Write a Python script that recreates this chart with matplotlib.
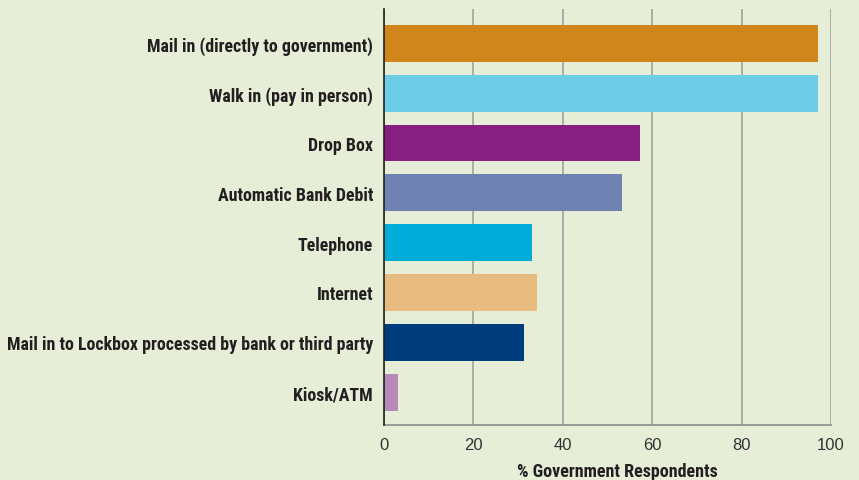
import matplotlib
matplotlib.use("Agg")
import matplotlib.pyplot as plt
from matplotlib import font_manager

categories = [
    "Mail in (directly to government)",
    "Walk in (pay in person)",
    "Drop Box",
    "Automatic Bank Debit",
    "Telephone",
    "Internet",
    "Mail in to Lockbox processed by bank or third party",
    "Kiosk/ATM",
]
values = [97.2, 97.2, 57.2, 53.2, 33.1, 34.2, 31.3, 3.1]
colors = ["#D0861A", "#6DCCE6", "#871F80", "#6F82B2",
          "#00ACD8", "#E8BB80", "#003D7C", "#B88AB9"]
xticks = [0, 20, 40, 60, 80, 100]
xlabel = "% Government Respondents"

bg = "#E6EED8"
names = {f.name for f in font_manager.fontManager.ttflist}
narrow = "Liberation Sans"
for cand in ["Roboto Condensed", "PT Sans Narrow", "Archivo Narrow", "Liberation Sans Narrow"]:
    if cand in names:
        narrow = cand
        break

fig = plt.figure(figsize=(8.59, 4.81), dpi=100, facecolor=bg)
ax = fig.add_axes([384 / 859, 1 - 426 / 481, (831 - 384) / 859, (426 - 10) / 481])
ax.set_facecolor(bg)

n = len(categories)
ypos = [n - 1 - i for i in range(n)]
ax.barh(ypos, values, height=0.74, color=colors, zorder=3)

ax.set_xlim(0, 100)
ax.set_ylim(-0.66, n - 1 + 0.69)
ax.set_xticks(xticks)
ax.set_xticklabels([str(t) for t in xticks], fontsize=12, color="#333333",
                   family="Liberation Sans")
ax.set_yticks(ypos)
ax.set_yticklabels(categories, fontsize=12.9, fontweight="bold", color="#231F20",
                   family=narrow)
ax.tick_params(axis="both", length=0)
ax.tick_params(axis="y", pad=8)
ax.tick_params(axis="x", pad=9)

ax.xaxis.grid(True, color="#A0A2A0", linewidth=1.2, zorder=0)
ax.yaxis.grid(False)

for s in ["top", "right"]:
    ax.spines[s].set_visible(False)
ax.spines["left"].set_color("#231F20")
ax.spines["left"].set_linewidth(1.2)
ax.spines["left"].set_zorder(4)
ax.spines["bottom"].set_color("#8A8C8A")
ax.spines["bottom"].set_linewidth(1.2)

ax.set_xlabel(xlabel, fontsize=13, fontweight="bold", color="#231F20",
              family=narrow)
ax.xaxis.set_label_coords(0.521, -0.088)

fig.savefig("out.png", dpi=100, facecolor=bg)
